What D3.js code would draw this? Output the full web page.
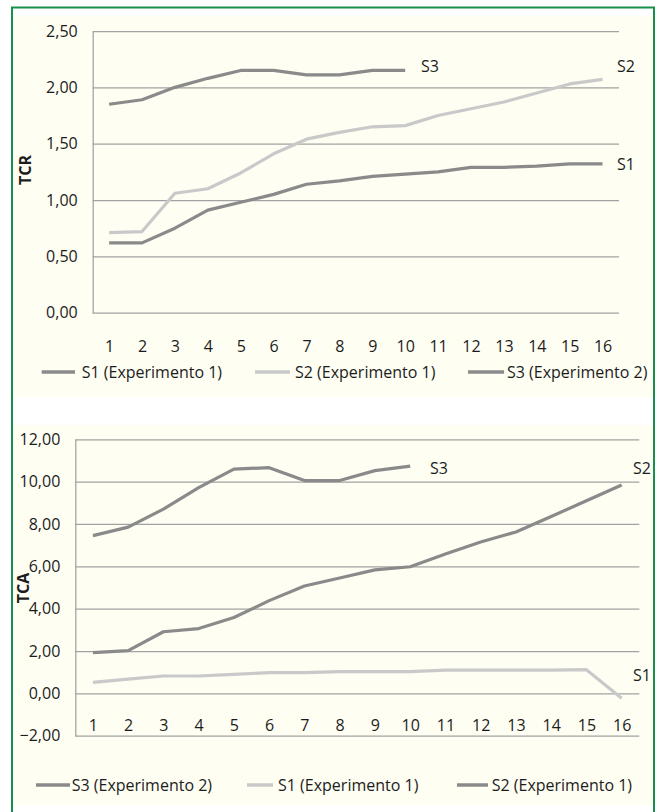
<!DOCTYPE html>
<html lang="pt">
<head>
  <meta charset="UTF-8">
  <title>TCR / TCA</title>
  <style>
    body { margin: 0; background: #fff; }
    text { font-family: "Open Sans", sans-serif; font-size: 16px; fill: #1c1c1c; }
    .grid line { stroke: #a2a2a2; stroke-width: 1.25; }
    .grid path { stroke: #a2a2a2; stroke-width: 1.25; }
  </style>
  <script src="https://cdn.jsdelivr.net/npm/d3@7"></script>
</head>
<body>
<svg id="chart" width="656" height="812"></svg>
<script>
// categories (sessions)
var sessions = d3.range(1, 17);

// TCR chart
var tcrTicks = [0, 0.5, 1, 1.5, 2, 2.5];
var tcrS1 = [0.62, 0.62, 0.75, 0.91, 0.98, 1.05, 1.14, 1.17, 1.21, 1.23, 1.25, 1.29, 1.29, 1.30, 1.32, 1.32];
var tcrS2 = [0.71, 0.72, 1.06, 1.10, 1.24, 1.41, 1.54, 1.60, 1.65, 1.66, 1.75, 1.81, 1.87, 1.95, 2.03, 2.07];
var tcrS3 = [1.85, 1.89, 2.00, 2.08, 2.15, 2.15, 2.11, 2.11, 2.15, 2.15];

// TCA chart
var tcaTicks = [-2, 0, 2, 4, 6, 8, 10, 12];
var tcaS1 = [0.52, 0.67, 0.82, 0.82, 0.90, 0.98, 0.98, 1.03, 1.03, 1.03, 1.10, 1.10, 1.10, 1.10, 1.12, -0.23];
var tcaS2 = [1.92, 2.02, 2.91, 3.06, 3.58, 4.38, 5.07, 5.45, 5.83, 5.98, 6.58, 7.15, 7.62, 8.35, 9.10, 9.84];
var tcaS3 = [7.45, 7.85, 8.70, 9.72, 10.59, 10.66, 10.05, 10.05, 10.52, 10.73];

var dark = "#8a8a8a", light = "#c9c9c9";
var fmt = d3.formatLocale({decimal: ",", thousands: ".", grouping: [3], currency: ["", ""]}).format(".2f");

var svg = d3.select("#chart");

// frame and panel backgrounds
svg.append("rect").attr("x", 14).attr("y", 16).attr("width", 639).attr("height", 381).attr("fill", "#fefef3");
svg.append("rect").attr("x", 14).attr("y", 425).attr("width", 639).attr("height", 380).attr("fill", "#fefef3");
svg.append("rect").attr("x", 12).attr("y", 7.5).attr("width", 642).attr("height", 830)
  .attr("fill", "none").attr("stroke", "#16904c").attr("stroke-width", 2);

function drawChart(o) {
  var g = svg.append("g");
  var x = d3.scalePoint().domain(sessions).range([o.left, o.right]).padding(0.5);
  var y = d3.scaleLinear().domain(o.domain).range([o.bottom, o.top]);

  var yAxis = g.append("g").attr("class", "grid")
    .attr("transform", "translate(" + o.left + ",0)")
    .call(d3.axisLeft(y).tickValues(o.ticks).tickSize(-(o.right - o.left)).tickSizeOuter(0)
      .tickPadding(15).tickFormat(fmt));
  yAxis.selectAll("text").attr("font-size", null);
  yAxis.attr("font-family", null).attr("font-size", null);

  var xAxis = g.append("g")
    .attr("transform", "translate(0," + o.labelY + ")")
    .call(d3.axisBottom(x).tickSize(0).tickPadding(0));
  xAxis.select(".domain").remove();
  xAxis.attr("font-family", null).attr("font-size", null);

  g.append("text")
    .attr("transform", "translate(" + o.titleX + "," + o.titleY + ") rotate(-90)")
    .attr("text-anchor", "middle").attr("dy", "0.35em")
    .attr("font-weight", "bold").text(o.title);

  var line = d3.line().x(function(d, i) { return x(sessions[i]); }).y(function(d) { return y(d); });
  o.series.forEach(function(s) {
    g.append("path").datum(s.values)
      .attr("d", line).attr("fill", "none")
      .attr("stroke", s.color).attr("stroke-width", 3.2).attr("stroke-linejoin", "round");
    g.append("text").attr("x", s.lx).attr("y", s.ly).attr("dy", "0.35em")
      .attr("text-anchor", "middle").text(s.tag);
  });

  o.legend.forEach(function(l) {
    var s = o.series.find(function(d) { return d.name === l.name; });
    g.append("line").attr("x1", l.x1).attr("x2", l.x2).attr("y1", o.legendY).attr("y2", o.legendY)
      .attr("stroke", s.color).attr("stroke-width", 3.5);
    g.append("text").attr("x", l.tx).attr("y", o.legendY).attr("dy", "0.35em").text(s.name);
  });
}

drawChart({
  left: 92.7, right: 619, top: 31, bottom: 312.7, domain: [0, 2.5], ticks: tcrTicks,
  labelY: 340.3, title: "TCR", titleX: 25, titleY: 170, legendY: 372,
  series: [
    {name: "S1 (Experimento 1)", tag: "S1", values: tcrS1, color: dark, lx: 626, ly: 164.5},
    {name: "S2 (Experimento 1)", tag: "S2", values: tcrS2, color: light, lx: 626, ly: 66.5},
    {name: "S3 (Experimento 2)", tag: "S3", values: tcrS3, color: dark, lx: 430, ly: 66.5}
  ],
  legend: [
    {name: "S1 (Experimento 1)", x1: 41.7, x2: 75, tx: 81.7},
    {name: "S2 (Experimento 1)", x1: 255, x2: 290, tx: 295},
    {name: "S3 (Experimento 2)", x1: 468, x2: 504, tx: 507}
  ]
});

drawChart({
  left: 75.3, right: 639.3, top: 439.3, bottom: 735.7, domain: [-2, 12], ticks: tcaTicks,
  labelY: 719.3, title: "TCA", titleX: 23, titleY: 588, legendY: 785,
  series: [
    {name: "S3 (Experimento 2)", tag: "S3", values: tcaS3, color: dark, lx: 439, ly: 468.3},
    {name: "S1 (Experimento 1)", tag: "S1", values: tcaS1, color: light, lx: 642, ly: 675},
    {name: "S2 (Experimento 1)", tag: "S2", values: tcaS2, color: dark, lx: 642, ly: 468.3}
  ],
  legend: [
    {name: "S3 (Experimento 2)", x1: 36, x2: 70, tx: 71.7},
    {name: "S1 (Experimento 1)", x1: 247, x2: 273, tx: 278},
    {name: "S2 (Experimento 1)", x1: 457, x2: 488, tx: 491.7}
  ]
});
</script>
</body>
</html>
